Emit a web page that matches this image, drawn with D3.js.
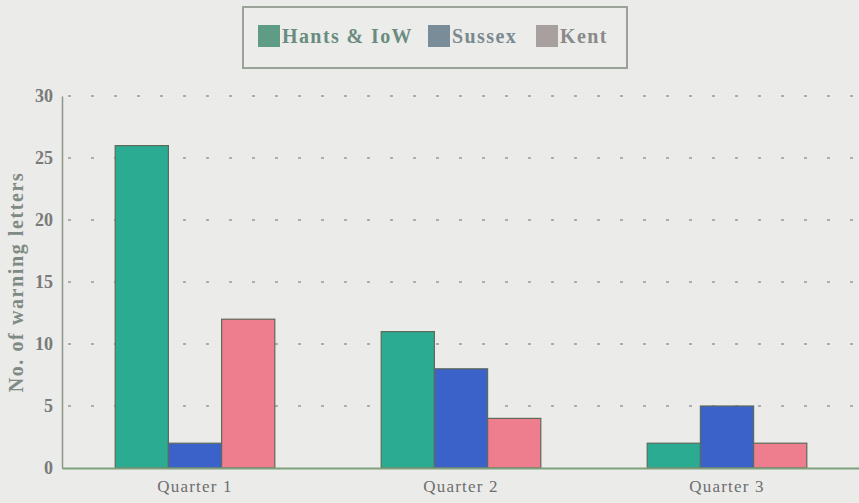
<!DOCTYPE html>
<html>
<head>
<meta charset="utf-8">
<script src="https://cdn.jsdelivr.net/npm/d3@7"></script>
<style>
  body { margin: 0; background: #ebebe9; }
  svg { display: block; }
</style>
</head>
<body>
<script>
// data
const quarters = ["Quarter 1", "Quarter 2", "Quarter 3"];
const seriesNames = ["Hants & IoW", "Sussex", "Kent"];
const hantsValues = [26, 11, 2];
const sussexValues = [2, 8, 5];
const kentValues = [12, 4, 2];
const yTicks = [0, 5, 10, 15, 20, 25, 30];

const barColors = ["#2bab92", "#3b62c8", "#ee7e8e"];
const legendColors = ["#5e9c86", "#7a8c98", "#a8a09f"];
const SERIF = "Liberation Serif, Times New Roman, serif";

const W = 859, H = 503;
const margin = { top: 96, right: -1, bottom: 35, left: 62 };

const svg = d3.select("body").append("svg").attr("width", W).attr("height", H);
svg.append("rect").attr("width", W).attr("height", H).attr("fill", "#ebebe9");

const x0 = d3.scaleBand().domain(quarters)
  .range([margin.left, W - margin.right]).paddingInner(0.4).paddingOuter(0.2);
const x1 = d3.scaleBand().domain(seriesNames).range([0, x0.bandwidth()]);
const y = d3.scaleLinear().domain([0, 30]).range([H - margin.bottom, margin.top]);

// dotted grid
svg.append("g").selectAll("line")
  .data(yTicks.filter((d) => d > 0))
  .join("line")
  .attr("x1", margin.left + 6).attr("x2", W)
  .attr("y1", (d) => y(d)).attr("y2", (d) => y(d))
  .attr("stroke", "#9a9a9a").attr("stroke-width", 1.3)
  .attr("stroke-dasharray", "3,20");

// bars
const rows = quarters.map((q, i) => ({
  q, vals: [hantsValues[i], sussexValues[i], kentValues[i]]
}));
svg.append("g").selectAll("g")
  .data(rows)
  .join("g")
  .attr("transform", (d) => `translate(${x0(d.q)},0)`)
  .selectAll("rect")
  .data((d) => d.vals.map((v, j) => ({ name: seriesNames[j], v, j })))
  .join("rect")
  .attr("x", (d) => x1(d.name))
  .attr("y", (d) => y(d.v))
  .attr("width", x1.bandwidth())
  .attr("height", (d) => y(0) - y(d.v))
  .attr("fill", (d) => barColors[d.j])
  .attr("stroke", "#5e6a5a").attr("stroke-width", 1.2);

// y axis
const yAxis = svg.append("g")
  .attr("transform", `translate(${margin.left},0)`)
  .call(d3.axisLeft(y).tickValues(yTicks).tickSize(0).tickPadding(9));
yAxis.select(".domain").attr("stroke", "#8c968a").attr("stroke-width", 1.5);
yAxis.selectAll("text")
  .attr("font-family", SERIF)
  .attr("font-weight", "bold").attr("font-size", 18).attr("fill", "#7a7a7a");

// x axis
const xAxis = svg.append("g")
  .attr("transform", `translate(0,${y(0)})`)
  .call(d3.axisBottom(x0).tickSize(0).tickPadding(12));
xAxis.select(".domain").attr("stroke", "#7fa07c").attr("stroke-width", 2);
xAxis.selectAll("text")
  .attr("font-family", SERIF)
  .attr("font-size", 17).attr("letter-spacing", 1.2).attr("fill", "#6e6e6e");

// y title
svg.append("text")
  .attr("transform", `translate(23,${(y(0) + y(30)) / 2}) rotate(-90)`)
  .attr("text-anchor", "middle")
  .attr("font-family", SERIF)
  .attr("font-weight", "bold").attr("font-size", 20).attr("letter-spacing", 1.6)
  .attr("fill", "#808a84")
  .text("No. of warning letters");

// legend
const legend = svg.append("g");
legend.append("rect")
  .attr("x", 243).attr("y", 7).attr("width", 384).attr("height", 61)
  .attr("fill", "#ececea").attr("stroke", "#9aa29a").attr("stroke-width", 2);
const legendX = [258, 428, 536];
const item = legend.selectAll("g.item")
  .data(seriesNames)
  .join("g").attr("class", "item")
  .attr("transform", (d, i) => `translate(${legendX[i]},25)`);
item.append("rect")
  .attr("width", 22).attr("height", 22)
  .attr("fill", (d, i) => legendColors[i]);
item.append("text")
  .attr("x", 24).attr("y", 18)
  .attr("font-family", SERIF)
  .attr("font-weight", "bold").attr("font-size", 20).attr("letter-spacing", 1.4)
  .attr("fill", (d, i) => ["#6a8c80", "#7a8a90", "#8a8a8a"][i])
  .text((d) => d);
</script>
</body>
</html>
